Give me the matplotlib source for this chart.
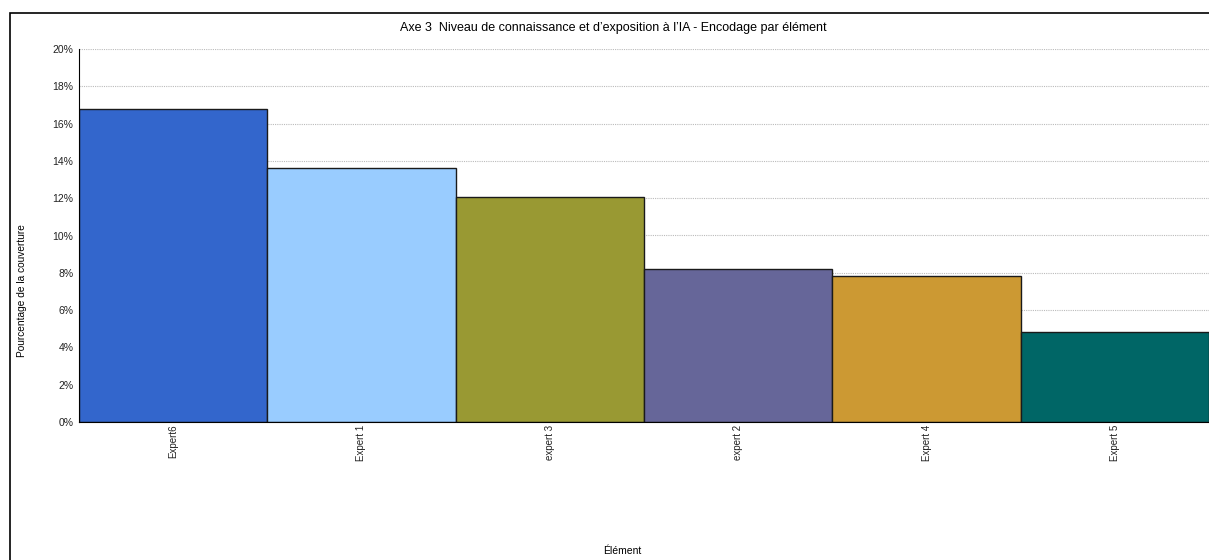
import matplotlib.pyplot as plt
from matplotlib.patches import Rectangle

plt.rcParams['font.family'] = ['Liberation Sans', 'DejaVu Sans']

# data
experts = ["Expert6", "Expert 1", "expert 3", "expert 2", "Expert 4", "Expert 5"]
coverage = [16.78, 13.62, 12.05, 8.19, 7.85, 4.81]
bar_colors = ["#3366CC", "#99CCFF", "#999933", "#666699", "#CC9933", "#006666"]
y_ticks = [0, 2, 4, 6, 8, 10, 12, 14, 16, 18, 20]

W, H = 1209, 560
fig = plt.figure(figsize=(W / 100, H / 100), dpi=100)
ax = fig.add_axes([79 / W, (H - 422) / H, 1 - 79 / W, (422 - 49) / H])

x = range(len(experts))
ax.bar(x, coverage, width=1.0, color=bar_colors, edgecolor="#1a1a1a", linewidth=1.0, zorder=3)

ax.set_xlim(-0.5, len(experts) - 0.5)
ax.set_ylim(0, 20)
ax.set_yticks(y_ticks)
ax.set_yticklabels([f"{t}%" for t in y_ticks], fontsize=7.5, color="#222222")
ax.set_xticks(list(x))
ax.set_xticklabels(experts, rotation=90, fontsize=7, va="top", color="#222222")
ax.tick_params(axis="y", length=0, pad=4)
ax.tick_params(axis="x", length=0, pad=2)

for t in y_ticks[1:]:
    ax.axhline(t, color="#bbbbbb", linestyle=(0, (1, 1)), linewidth=0.8, zorder=1)

for side in ["top", "right"]:
    ax.spines[side].set_visible(False)
ax.spines["left"].set_color("black")
ax.spines["bottom"].set_color("black")
ax.spines["left"].set_zorder(4)
ax.spines["bottom"].set_zorder(4)

fig.text(613 / W, 1 - 28.5 / H,
         "Axe 3  Niveau de connaissance et d\u2019exposition \u00e0 l\u2019IA - Encodage par \u00e9l\u00e9ment",
         ha="center", va="center", fontsize=9)
fig.text(22 / W, 1 - 291 / H, "Pourcentage de la couverture", rotation=90,
         ha="center", va="center", fontsize=7.3)
fig.text(622 / W, 1 - 551 / H, "\u00c9l\u00e9ment", ha="center", va="center", fontsize=7.5)

# outer frame (cut off at right and bottom in the reference)
fig.patches.append(Rectangle((9.5 / W, -0.1), 1.2, 1.1 - 12.5 / H, transform=fig.transFigure,
                             fill=False, edgecolor="black", linewidth=1.2, clip_on=False))

fig.savefig("out.png", dpi=100)
